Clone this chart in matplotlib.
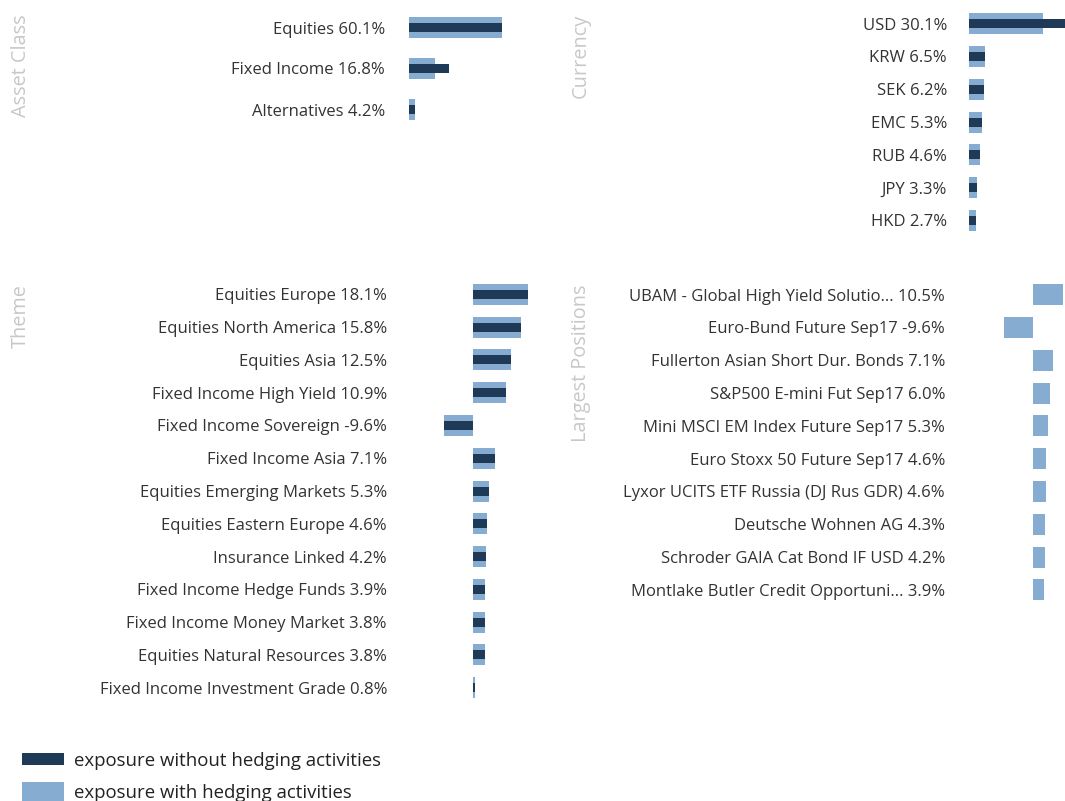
import matplotlib
matplotlib.use("Agg")
import matplotlib.pyplot as plt
from matplotlib.patches import Rectangle

plt.rcParams['font.family'] = ['Open Sans', 'DejaVu Sans']

W, H = 1065, 801
DARK = "#1f3a56"
LIGHT = "#86acd2"
LABEL_COLOR = "#333333"
TITLE_COLOR = "#c8c8c8"

asset_labels = ["Equities", "Fixed Income", "Alternatives"]
asset_with = [60.1, 16.8, 4.2]
asset_without = [60.1, 25.8, 4.2]

currency_labels = ["USD", "KRW", "SEK", "EMC", "RUB", "JPY", "HKD"]
currency_with = [30.1, 6.5, 6.2, 5.3, 4.6, 3.3, 2.7]
currency_without = [39.0, 6.5, 6.2, 5.3, 4.6, 3.3, 2.7]

theme_labels = ["Equities Europe", "Equities North America", "Equities Asia",
                "Fixed Income High Yield", "Fixed Income Sovereign", "Fixed Income Asia",
                "Equities Emerging Markets", "Equities Eastern Europe", "Insurance Linked",
                "Fixed Income Hedge Funds", "Fixed Income Money Market",
                "Equities Natural Resources", "Fixed Income Investment Grade"]
theme_with = [18.1, 15.8, 12.5, 10.9, -9.6, 7.1, 5.3, 4.6, 4.2, 3.9, 3.8, 3.8, 0.8]
theme_without = [18.1, 15.8, 12.5, 10.9, -9.6, 7.1, 5.3, 4.6, 4.2, 3.9, 3.8, 3.8, 0.8]

positions_labels = ["UBAM - Global High Yield Solutio...", "Euro-Bund Future Sep17",
                    "Fullerton Asian Short Dur. Bonds", "S&P500 E-mini Fut Sep17",
                    "Mini MSCI EM Index Future Sep17", "Euro Stoxx 50 Future Sep17",
                    "Lyxor UCITS ETF Russia (DJ Rus GDR)", "Deutsche Wohnen AG",
                    "Schroder GAIA Cat Bond IF USD", "Montlake Butler Credit Opportuni..."]
positions_with = [10.5, -9.6, 7.1, 6.0, 5.3, 4.6, 4.6, 4.3, 4.2, 3.9]

legend_labels = ["exposure without hedging activities", "exposure with hedging activities"]

fig = plt.figure(figsize=(W / 100, H / 100), dpi=100)


def panel(title, labels, vals_with, vals_without, L, T, R, B, zero_px, scale,
          label_end, title_x, title_y):
    ax = fig.add_axes([L / W, 1 - B / H, (R - L) / W, (B - T) / H])
    n = len(labels)
    spacing = (B - T) / n
    y = list(range(n))
    ax.barh(y, vals_with, height=21 / spacing, color=LIGHT, linewidth=0)
    if vals_without is not None:
        ax.barh(y, vals_without, height=9 / spacing, color=DARK, linewidth=0)
    ax.set_ylim(n - 0.5, -0.5)
    ax.set_xlim(-(zero_px - L) / scale, (R - zero_px) / scale)
    ax.set_yticks(y, labels=[f"{l} {v:.1f}%" for l, v in zip(labels, vals_with)])
    ax.tick_params(axis='y', length=0, pad=(L - label_end) * 0.72,
                   labelsize=12, labelcolor=LABEL_COLOR)
    ax.set_xticks([])
    for s in ax.spines.values():
        s.set_visible(False)
    ax.patch.set_visible(False)
    fig.text(title_x / W, 1 - title_y / H, title, rotation=90, ha='center', va='top',
             fontsize=14.3, color=TITLE_COLOR)
    return ax


panel("Asset Class", asset_labels, asset_with, asset_without,
      405, 7, 560, 130, 409, 1.547, 385, 21, 14)
panel("Currency", currency_labels, currency_with, currency_without,
      962, 7.1, 1065, 236.9, 969, 2.46, 947, 581, 14)
panel("Theme", theme_labels, theme_with, theme_without,
      400, 278.1, 545, 703.9, 473, 3.05, 387, 21, 284)
panel("Largest Positions", positions_labels, positions_with, None,
      995, 278.1, 1065, 606.4, 1032.5, 2.95, 945, 581, 284)

# legend
for (yt, yb), col, lab, yc in [((753, 765), DARK, legend_labels[0], 761),
                               ((782, 802), LIGHT, legend_labels[1], 793)]:
    fig.patches.append(Rectangle((22 / W, 1 - yb / H), 42 / W, (yb - yt) / H,
                                 transform=fig.transFigure, color=col, linewidth=0))
    fig.text(74 / W, 1 - yc / H, lab, ha='left', va='center', fontsize=13.4,
             color="#222222")

fig.savefig("out.png", dpi=100)
